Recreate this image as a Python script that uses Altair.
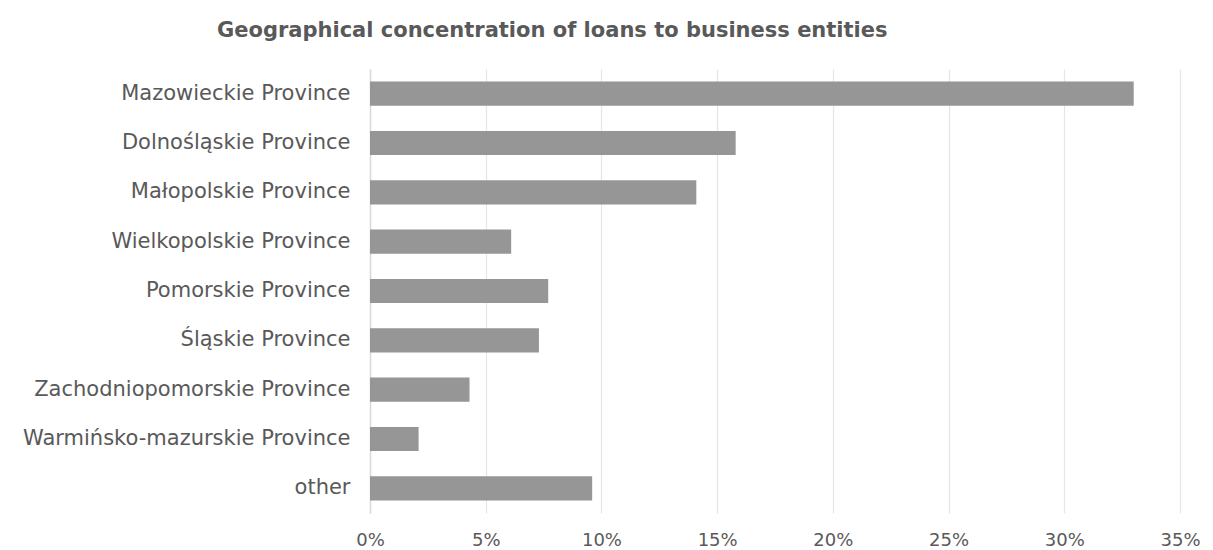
import altair as alt
import pandas as pd

categories = [
    "Mazowieckie Province",
    "Dolnośląskie Province",
    "Małopolskie Province",
    "Wielkopolskie Province",
    "Pomorskie Province",
    "Śląskie Province",
    "Zachodniopomorskie Province",
    "Warmińsko-mazurskie Province",
    "other",
]
shares = [0.330, 0.158, 0.141, 0.061, 0.077, 0.073, 0.043, 0.021, 0.096]
tick_values = [0.0, 0.05, 0.10, 0.15, 0.20, 0.25, 0.30, 0.35]

df = pd.DataFrame({"region": categories, "share": shares})

FONT = "DejaVu Sans"
TXT = "#595959"

chart = (
    alt.Chart(df)
    .mark_bar(color="#969696")
    .encode(
        x=alt.X(
            "share:Q",
            scale=alt.Scale(domain=[0, 0.35], nice=False, zero=True),
            axis=alt.Axis(
                values=tick_values,
                format=".0%",
                title=None,
                orient="bottom",
                domain=False,
                ticks=False,
                grid=True,
                gridColor="#e6e6e6",
                gridWidth=1.2,
                labelPadding=18,
                labelFontSize=18,
                labelColor=TXT,
                labelFont=FONT,
                labelFlush=False,
            ),
        ),
        y=alt.Y(
            "region:N",
            sort=None,
            scale=alt.Scale(paddingInner=0.51, paddingOuter=0.255),
            axis=alt.Axis(
                title=None,
                ticks=False,
                domain=True,
                domainColor="#d9d9d9",
                domainWidth=1.5,
                labelPadding=20,
                labelFontSize=21,
                labelColor=TXT,
                labelFont=FONT,
                labelLimit=0,
                grid=False,
            ),
        ),
    )
    .properties(
        width=810,
        height=444,
        background="white",
        title=alt.TitleParams(
            "Geographical concentration of loans to business entities",
            anchor="start",
            frame="group",
            dx=-153,
            offset=28,
            fontSize=21,
            fontWeight="bold",
            color=TXT,
            font=FONT,
        ),
        autosize=alt.AutoSizeParams(type="none"),
        padding={"left": 362, "top": 61, "right": 25, "bottom": 36},
    )
    .configure_view(strokeWidth=0, stroke="transparent")
)

chart.save("out.html", embed_options={"renderer": "svg", "actions": False})
